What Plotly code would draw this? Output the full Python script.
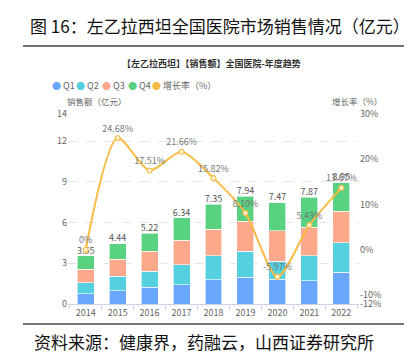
import plotly.graph_objects as go

years = ["2014", "2015", "2016", "2017", "2018", "2019", "2020", "2021", "2022"]
q1 = [0.76, 0.98, 1.25, 1.42, 1.79, 1.98, 1.84, 1.72, 2.33]
q2 = [0.80, 1.05, 1.15, 1.47, 1.76, 1.89, 1.30, 1.83, 2.18]
q3 = [1.00, 1.27, 1.47, 1.79, 1.96, 2.21, 2.25, 2.11, 2.33]
q4 = [0.99, 1.14, 1.35, 1.66, 1.84, 1.86, 2.08, 2.21, 2.11]
totals = [3.55, 4.44, 5.22, 6.34, 7.35, 7.94, 7.47, 7.87, 8.95]
growth = [0.0, 24.68, 17.51, 21.66, 15.82, 8.10, -5.97, 5.43, 13.67]
growth_labels = ["0%", "24.68%", "17.51%", "21.66%", "15.82%", "8.10%", "-5.97%", "5.43%", "13.67%"]
left_ticks = [0, 3, 6, 9, 12, 14]
right_ticks = [-12, -10, 0, 10, 20, 30]
right_tick_labels = ["-12%", "-10%", "0%", "10%", "20%", "30%"]
legend_names = ["Q1", "Q2", "Q3", "Q4", "增长率（%）"]

colors = ["#6aa6fb", "#55d0de", "#fca98b", "#58d280", "#fbbc45"]
FONT = "Noto Sans CJK SC"

fig = go.Figure()
for vals, name, c in zip([q1, q2, q3, q4], legend_names[:4], colors[:4]):
    fig.add_trace(go.Bar(x=years, y=vals, name=name, marker=dict(color=c, line=dict(color="white", width=0.6)),
                         showlegend=False, hoverinfo="skip"))

fig.add_trace(go.Scatter(x=years, y=totals, mode="text", text=[f"{t:.2f}" for t in totals],
                         textposition="top center", textfont=dict(size=9, color="#555", family=FONT),
                         showlegend=False, hoverinfo="skip"))

fig.add_trace(go.Scatter(x=years, y=growth, yaxis="y2", mode="lines+markers+text",
                         line=dict(color=colors[4], width=2, shape="spline", smoothing=0.75),
                         marker=dict(size=5, color="#fff5dc", line=dict(color=colors[4], width=1.2)),
                         text=growth_labels, textposition="top center",
                         textfont=dict(size=9, color="#777", family=FONT),
                         showlegend=False, hoverinfo="skip"))

fig.update_layout(
    width=412, height=355,
    margin=dict(l=60, r=61, t=106, b=59),
    paper_bgcolor="white", plot_bgcolor="white",
    barmode="stack", bargap=0.47,
    font=dict(family=FONT, size=9, color="#666"),
    xaxis=dict(type="category", showgrid=False, showline=True, linecolor="#c9d3e3", linewidth=1,
               ticks="outside", tickson="boundaries", ticklen=4, tickcolor="#c9d3e3",
               tickfont=dict(size=9, color="#666")),
    yaxis=dict(range=[0, 14], tickvals=left_ticks, showgrid=True, gridcolor="#e6e6e6", griddash="dash",
               gridwidth=1, zeroline=False, showline=False, tickfont=dict(size=9, color="#666")),
    yaxis2=dict(range=[-12, 30], overlaying="y", side="right", tickvals=right_ticks,
                ticktext=right_tick_labels, showgrid=False, zeroline=False, showline=False,
                tickfont=dict(size=9, color="#666")),
)

# Title, rules and source
fig.add_annotation(text="图 16：左乙拉西坦全国医院市场销售情况（亿元）", xref="paper", yref="paper",
                   x=(20 - 60) / 291, y=(296 - 17) / 190, xanchor="left", yanchor="middle",
                   showarrow=False, font=dict(size=17, color="#111", family=FONT))
fig.add_annotation(text="资料来源：健康界，药融云，山西证券研究所", xref="paper", yref="paper",
                   x=(24 - 60) / 291, y=(296 - 333) / 190, xanchor="left", yanchor="middle",
                   showarrow=False, font=dict(size=17, color="#111", family=FONT))
for ypix in (38, 316):
    fig.add_shape(type="line", xref="paper", yref="paper",
                  x0=(15 - 60) / 291, x1=(406 - 60) / 291,
                  y0=(296 - ypix) / 190, y1=(296 - ypix) / 190,
                  line=dict(color="#444", width=1.3))

fig.add_annotation(text="<b>【左乙拉西坦】【销售额】全国医院-年度趋势</b>", xref="paper", yref="paper",
                   x=(203 - 60) / 291, y=(296 - 55) / 190, xanchor="center", yanchor="middle",
                   showarrow=False, font=dict(size=9, color="#333", family=FONT))
fig.add_annotation(text="销售额（亿元）", xref="paper", yref="paper",
                   x=(57 - 60) / 291, y=(296 - 93) / 190, xanchor="left", yanchor="middle",
                   showarrow=False, font=dict(size=8.5, color="#666", family=FONT))
fig.add_annotation(text="增长率（%）", xref="paper", yref="paper",
                   x=(376 - 60) / 291, y=(296 - 93) / 190, xanchor="right", yanchor="middle",
                   showarrow=False, font=dict(size=8.5, color="#666", family=FONT))

# Legend (circle markers + labels)
leg_x = [42, 66, 92, 118, 142]
for name, c, lx in zip(legend_names, colors, leg_x):
    fig.add_annotation(text=f"<span style='color:{c}'>●</span> {name}", xref="paper", yref="paper",
                       x=(lx - 60) / 291, y=(296 - 77) / 190, xanchor="left", yanchor="middle",
                       showarrow=False, font=dict(size=9, color="#666", family=FONT))

fig.write_html("out.html")
